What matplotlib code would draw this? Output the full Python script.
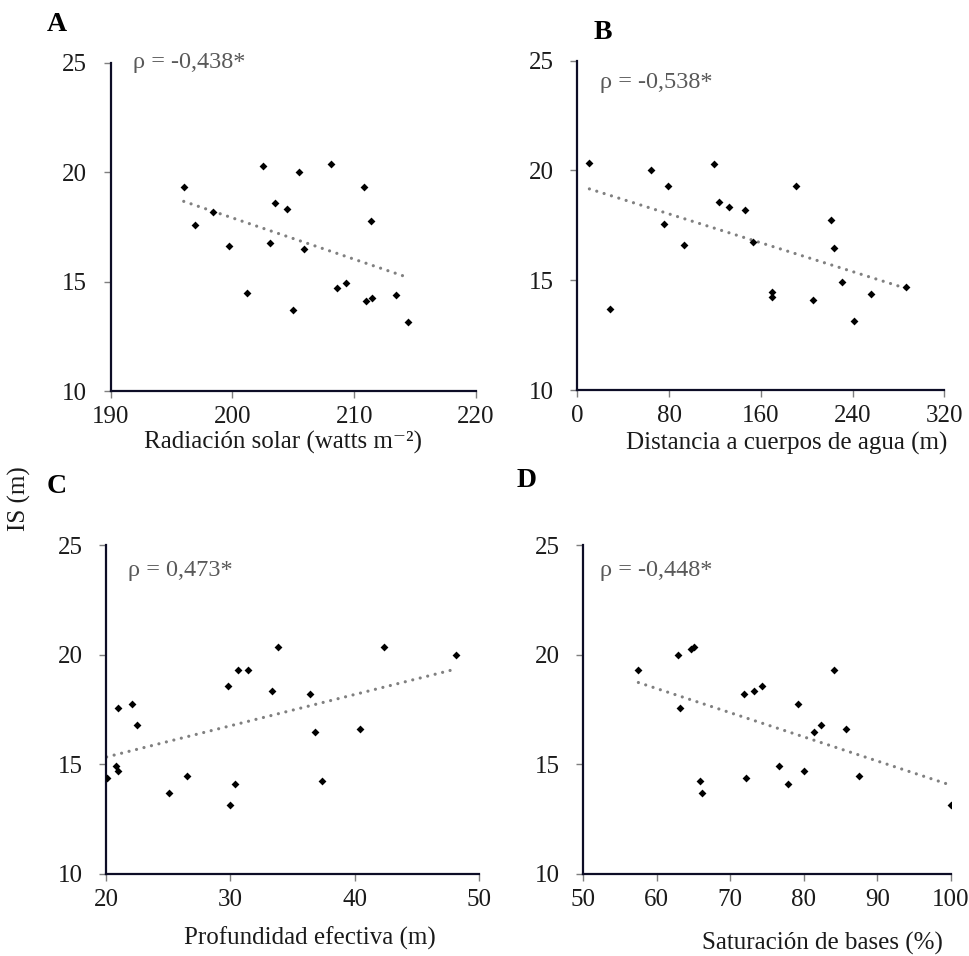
import numpy as np
import matplotlib
matplotlib.use("Agg")
import matplotlib.pyplot as plt

plt.rcParams["font.family"] = ["Liberation Serif", "DejaVu Serif"]

# --- data ---
rad_x = [196.0, 196.9, 198.4, 199.7, 201.2, 202.5, 203.1, 203.5, 204.5, 205.0, 205.5,
         205.9, 208.1, 208.6, 209.3, 210.8, 211.0, 211.4, 211.5, 213.4, 214.4]
rad_y = [19.30, 17.58, 18.20, 16.62, 14.48, 20.30, 16.78, 18.58, 18.33, 13.70, 20.02,
         16.49, 20.36, 14.71, 14.92, 19.30, 14.10, 17.77, 14.24, 14.37, 13.15]

dist_x = [10.5, 28.8, 64.0, 75.9, 79.4, 93.3, 119.5, 123.8, 132.6, 146.2, 153.5,
          169.5, 170.1, 190.4, 205.8, 221.5, 223.8, 230.5, 241.3, 256.4, 286.9]
dist_y = [20.34, 13.70, 20.00, 17.58, 19.29, 16.60, 20.28, 18.58, 18.32, 18.18, 16.76,
          14.48, 14.22, 19.29, 14.10, 17.76, 16.48, 14.92, 13.16, 14.36, 14.69]

prof_x = [20.05, 20.78, 20.99, 20.99, 22.09, 22.49, 25.09, 26.48, 29.78, 29.99, 30.37,
          30.61, 31.41, 33.39, 33.82, 36.39, 36.82, 37.41, 40.41, 42.39, 48.13]
prof_y = [14.36, 14.92, 17.58, 14.70, 17.77, 16.78, 13.71, 14.47, 18.57, 13.15, 14.10,
          19.30, 19.30, 18.33, 20.33, 18.21, 16.49, 14.23, 16.63, 20.36, 20.00]

sat_x = [57.5, 62.9, 63.1, 64.6, 65.1, 65.9, 66.2, 71.9, 72.1, 73.3, 74.3,
         76.6, 77.9, 79.2, 80.0, 81.4, 82.4, 84.1, 85.8, 87.5, 100.0]
sat_y = [19.30, 20.00, 17.58, 20.27, 20.35, 14.24, 13.71, 18.21, 14.38, 18.33, 18.57,
         14.92, 14.10, 17.74, 14.70, 16.49, 16.78, 19.30, 16.63, 14.48, 13.15]

rho_txt = ["ρ = -0,438*", "ρ = -0,538*", "ρ = 0,473*", "ρ = -0,448*"]
letters = ["A", "B", "C", "D"]
xlabels = ["Radiación solar (watts m⁻²)",
           "Distancia a cuerpos de agua (m)",
           "Profundidad efectiva (m)",
           "Saturación de bases (%)"]
xticks = [[190, 200, 210, 220], [0, 80, 160, 240, 320], [20, 30, 40, 50],
          [50, 60, 70, 80, 90, 100]]
yticks = [10, 15, 20, 25]

panels = [(rad_x, rad_y), (dist_x, dist_y), (prof_x, prof_y), (sat_x, sat_y)]

# layout (figure fractions)
rects = [[0.1141, 0.591, 0.3766, 0.3434],
         [0.5952, 0.592, 0.3784, 0.3445],
         [0.1093, 0.0858, 0.3845, 0.3441],
         [0.6013, 0.0858, 0.3788, 0.3441]]
rho_pos = [(191.8, 25.0), (19.8, 24.0), (21.8, 23.86), (52.3, 23.86)]
label_pos = [(0.472, -0.174), (0.569, -0.182), (0.547, -0.214), (0.652, -0.229)]
letter_pos = [(0.059, 0.974), (0.621, 0.9665), (0.058, 0.491), (0.543, 0.497)]

spine_col = "#0d0d26"
fig = plt.figure(figsize=(9.7, 9.56), dpi=100)

for i, (xs, ys) in enumerate(panels):
    ax = fig.add_axes(rects[i])
    xs = np.array(xs)
    ys = np.array(ys)
    k, b = np.polyfit(xs, ys, 1)
    xl = np.array([xs.min(), xs.max()])
    ax.plot(xl, k * xl + b, color="#808080", lw=2.3,
            linestyle=(0, (0.01, 2.4)), dash_capstyle="round", zorder=2)
    ax.scatter(xs, ys, marker="D", s=16, color="black", zorder=3, linewidths=0)

    ax.set_xlim(xticks[i][0], xticks[i][-1])
    ax.set_ylim(10, 25)
    ax.set_xticks(xticks[i])
    ax.set_yticks(yticks)
    for s in ["top", "right"]:
        ax.spines[s].set_visible(False)
    for s in ["left", "bottom"]:
        ax.spines[s].set_color(spine_col)
        ax.spines[s].set_linewidth(1.6)
    ax.tick_params(axis="x", direction="out", length=5, width=1, color="#7f7f7f",
                   labelsize=18, labelcolor="#1a1a1a", pad=6)
    ax.tick_params(axis="y", direction="out", length=5, width=1, color="#7f7f7f",
                   labelsize=18, labelcolor="#1a1a1a", pad=12)
    ax.patch.set_alpha(0)

    ax.set_xlabel(xlabels[i], fontsize=18, color="#1a1a1a")
    ax.xaxis.set_label_coords(*label_pos[i])
    ax.xaxis.label.set_va("baseline")

    ax.text(rho_pos[i][0], rho_pos[i][1], rho_txt[i], fontsize=17.5, color="#595959",
            ha="left", va="center")
    fig.text(letter_pos[i][0], letter_pos[i][1], letters[i], fontsize=20,
             fontweight="bold", ha="center", va="center", color="black")

fig.text(0.0196, 0.478, "IS (m)", rotation=90, fontsize=18, ha="center", va="center",
         color="#1a1a1a")

fig.savefig("out.png", dpi=100)
